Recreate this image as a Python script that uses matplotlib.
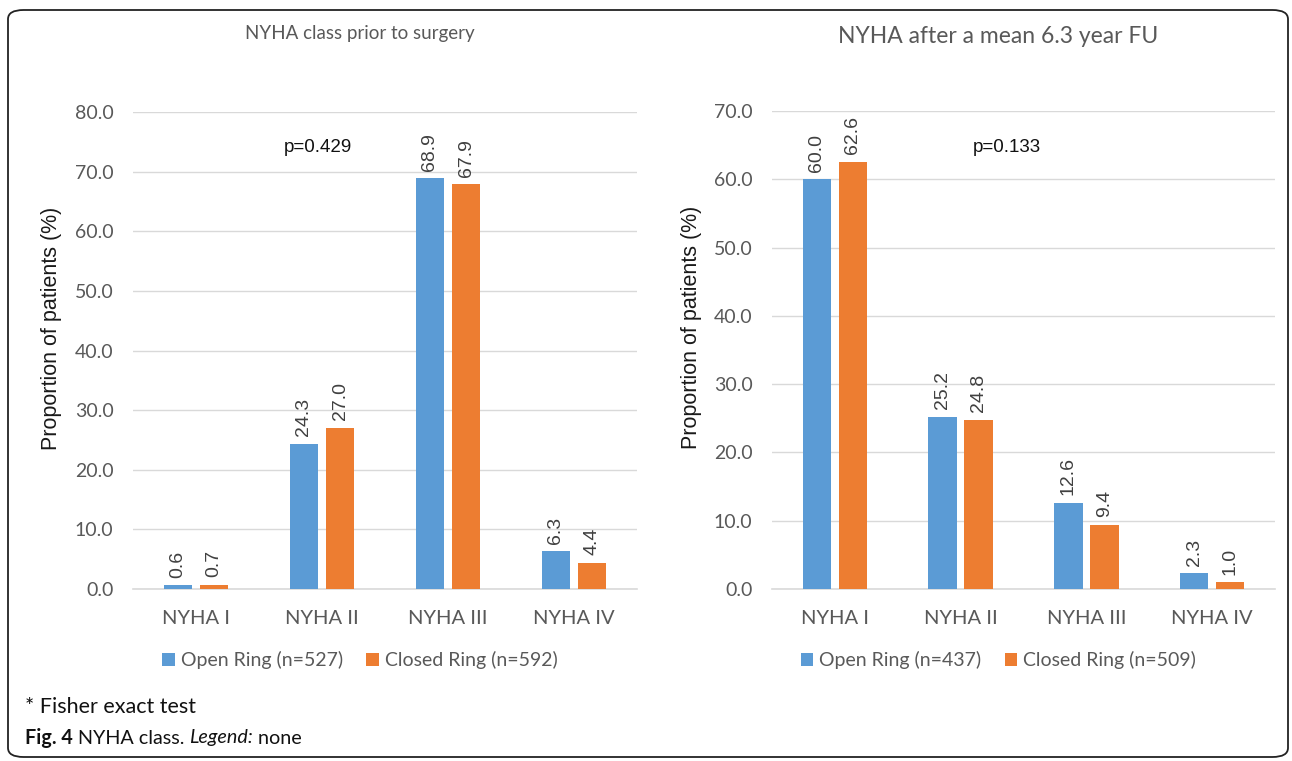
"""Two-panel NYHA class bar chart (before surgery vs follow-up)."""

import matplotlib

matplotlib.use("Agg")
import matplotlib.pyplot as plt
import numpy as np
from matplotlib.patches import FancyBboxPatch

categories = ["NYHA I", "NYHA II", "NYHA III", "NYHA IV"]

pre_open = [0.6, 24.3, 68.9, 6.3]
pre_closed = [0.7, 27.0, 67.9, 4.4]
post_open = [60.0, 25.2, 12.6, 2.3]
post_closed = [62.6, 24.8, 9.4, 1.0]

pre_labels = ["Open Ring (n=527)", "Closed Ring (n=592)"]
post_labels = ["Open Ring (n=437)", "Closed Ring (n=509)"]

BLUE = "#5B9BD5"
ORANGE = "#ED7D31"
GRID = "#D9D9D9"
GREY_TXT = "#595959"
CAL = ["Lato", "DejaVu Sans"]
ARIAL = ["Liberation Sans", "DejaVu Sans"]

fig = plt.figure(figsize=(12.92, 7.61), dpi=100)

# rounded frame around the whole panel
frame = FancyBboxPatch((8 / 1292, 4 / 761), 1280 / 1292, 747 / 761,
                       boxstyle="round,pad=0,rounding_size=0.012",
                       transform=fig.transFigure, fill=False,
                       edgecolor="#222222", linewidth=1.3)
fig.patches.append(frame)

ax1 = fig.add_axes([133 / 1292, 172 / 761, 504 / 1292, 477 / 761])
ax2 = fig.add_axes([772 / 1292, 172 / 761, 503 / 1292, 478 / 761])


def draw_panel(ax, open_vals, closed_vals, ymax, title, title_size, title_y, pval, p_xy, labels,
               ylab_x):
    x = np.arange(len(categories))
    w = 0.225
    b1 = ax.bar(x - 0.143, open_vals, w, color=BLUE, label=labels[0], zorder=3)
    b2 = ax.bar(x + 0.143, closed_vals, w, color=ORANGE, label=labels[1], zorder=3)
    for bars, vals in ((b1, open_vals), (b2, closed_vals)):
        for rect, v in zip(bars, vals):
            ax.annotate(f"{v:.1f}", (rect.get_x() + rect.get_width() / 2, v),
                        xytext=(0, 5.5), textcoords="offset points",
                        rotation=90, ha="center", va="bottom",
                        fontsize=14, color="#404040", family=ARIAL)
    ax.set_xlim(-0.5, len(categories) - 0.5)
    ax.set_ylim(0, ymax)
    ticks = np.arange(0, ymax + 0.1, 10)
    ax.set_yticks(ticks)
    ax.set_yticklabels([f"{t:.1f}" for t in ticks])
    ax.set_xticks(x)
    ax.set_xticklabels(categories)
    ax.tick_params(axis="y", length=0, pad=14, labelsize=14, labelcolor=GREY_TXT)
    ax.tick_params(axis="x", length=0, pad=15, labelsize=14.5, labelcolor=GREY_TXT)
    for lab in ax.get_xticklabels() + ax.get_yticklabels():
        lab.set_family(CAL)
    for side in ("top", "right", "left"):
        ax.spines[side].set_visible(False)
    ax.spines["bottom"].set_color(GRID)
    ax.spines["bottom"].set_linewidth(1.2)
    ax.grid(axis="y", color=GRID, linewidth=1.0, zorder=0)
    ax.set_axisbelow(True)
    ax.set_ylabel("Proportion of patients (%)", fontsize=15.5, family=ARIAL,
                  color="#1a1a1a")
    ax.yaxis.set_label_coords(ylab_x, 0.547)
    ax.text(p_xy[0], p_xy[1], pval, fontsize=13.5, family=ARIAL,
            ha="left", va="center", color="#111111")
    ax.text(0.45, title_y, title, transform=ax.transAxes, ha="center", va="center",
            fontsize=title_size, family=CAL, color=GREY_TXT)
    ax.legend(loc="center", bbox_to_anchor=(0.45, -0.149), ncol=2, frameon=False,
              handlelength=0.65, handleheight=0.65, handletextpad=0.3,
              columnspacing=1.2, prop={"family": CAL, "size": 14},
              labelcolor=GREY_TXT)


draw_panel(ax1, pre_open, pre_closed, 80, "NYHA class prior to surgery", 13.5, 1.165,
           "p=0.429", (0.7, 74.0), pre_labels, -0.141)
draw_panel(ax2, post_open, post_closed, 70, "NYHA after a mean 6.3 year FU", 16.5, 1.155,
           "p=0.133", (1.1, 64.6), post_labels, -0.139)

fig.text(25 / 1292, 1 - 707 / 761, "* Fisher exact test", fontsize=15.5, family=CAL,
         color="#111111", ha="left", va="center")

# caption with mixed weights
renderer = fig.canvas.get_renderer()
cx = 25 / 1292
cy = 1 - 738 / 761
parts = [("Fig. 4", "bold", "normal"), (" NYHA class. ", "normal", "normal"),
         ("Legend:", "normal", "italic"), (" none", "normal", "normal")]
for txt, weight, style in parts:
    t = fig.text(cx, cy, txt, fontsize=14.2, family=CAL, weight=weight, style=style,
                 color="#111111", ha="left", va="center")
    bb = t.get_window_extent(renderer=renderer)
    cx += bb.width / fig.bbox.width

fig.savefig("out.png", dpi=100)
